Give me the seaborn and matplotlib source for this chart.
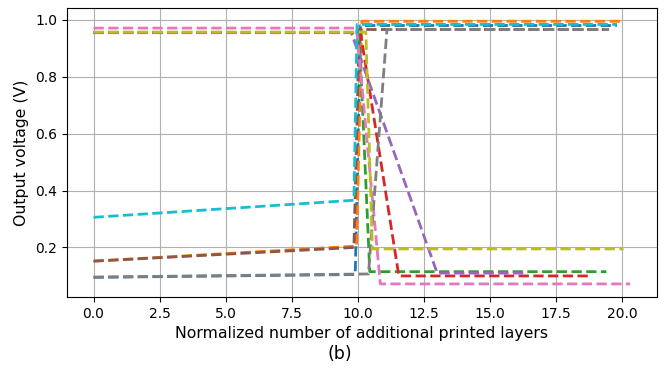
import pandas as pd
import matplotlib
matplotlib.use("Agg")
import matplotlib.pyplot as plt
import seaborn as sns

# one entry per curve, tab10 order
series_names = ["s1", "s2", "s3", "s4", "s5", "s6", "s7", "s8", "s9", "s10"]

x_s1 = [0.0, 9.9, 10.1, 19.8]
y_s1 = [0.095, 0.105, 0.98, 0.98]
x_s2 = [0.0, 9.95, 10.15, 20.05]
y_s2 = [0.152, 0.205, 0.995, 0.995]
x_s3 = [0.0, 10.05, 10.45, 19.4]
y_s3 = [0.955, 0.955, 0.115, 0.115]
x_s4 = [0.0, 10.1, 11.55, 18.7]
y_s4 = [0.955, 0.955, 0.10, 0.10]
x_s5 = [0.0, 9.75, 13.0, 16.3]
y_s5 = [0.955, 0.955, 0.11, 0.11]
x_s6 = [0.0, 9.85, 10.05, 19.5]
y_s6 = [0.152, 0.2, 0.966, 0.966]
x_s7 = [0.0, 9.95, 10.85, 20.3]
y_s7 = [0.971, 0.971, 0.072, 0.072]
x_s8 = [0.0, 10.4, 11.1, 19.5]
y_s8 = [0.096, 0.107, 0.966, 0.966]
x_s9 = [0.0, 10.3, 10.55, 20.05]
y_s9 = [0.957, 0.957, 0.195, 0.195]
x_s10 = [0.0, 9.85, 9.97, 19.8]
y_s10 = [0.306, 0.366, 0.984, 0.984]

xs = [x_s1, x_s2, x_s3, x_s4, x_s5, x_s6, x_s7, x_s8, x_s9, x_s10]
ys = [y_s1, y_s2, y_s3, y_s4, y_s5, y_s6, y_s7, y_s8, y_s9, y_s10]

x_ticks = [0, 2.5, 5, 7.5, 10, 12.5, 15, 17.5, 20]
x_tick_labels = ["0.0", "2.5", "5.0", "7.5", "10.0", "12.5", "15.0", "17.5", "20.0"]
y_ticks = [0.2, 0.4, 0.6, 0.8, 1.0]
y_tick_labels = ["0.2", "0.4", "0.6", "0.8", "1.0"]


def main():
    rows = []
    for name, xv, yv in zip(series_names, xs, ys):
        for i, (a, b) in enumerate(zip(xv, yv)):
            rows.append({"series": name, "x": a, "y": b, "order": i})
    df = pd.DataFrame(rows)

    sns.set_style("ticks", {"axes.grid": True, "grid.color": "#b0b0b0",
                            "axes.edgecolor": "black", "text.color": "black",
                            "axes.labelcolor": "black", "xtick.color": "black",
                            "ytick.color": "black"})
    plt.rcParams["font.family"] = ["DejaVu Sans"]

    fig = plt.figure(figsize=(6.67, 3.69), dpi=100)
    ax = fig.add_axes([0.1, 0.195, 0.885, 0.783])

    sns.lineplot(data=df, x="x", y="y", hue="series", hue_order=series_names,
                 palette="tab10", sort=False, estimator=None, units="series",
                 linestyle="--", linewidth=2, legend=False, ax=ax)

    ax.set_xticks(x_ticks)
    ax.set_xticklabels(x_tick_labels)
    ax.set_yticks(y_ticks)
    ax.set_yticklabels(y_tick_labels)
    ax.tick_params(labelsize=10, length=3.5, width=0.8)
    ax.set_xlabel("Normalized number of additional printed layers", fontsize=11.3)
    ax.set_ylabel("Output voltage (V)", fontsize=11.3)
    for s in ax.spines.values():
        s.set_visible(True)
        s.set_color("black")
    fig.text(0.51, 0.015, "(b)", ha="center", va="bottom", fontsize=12.5)

    fig.savefig("out.png", dpi=100)


if __name__ == "__main__":
    main()
